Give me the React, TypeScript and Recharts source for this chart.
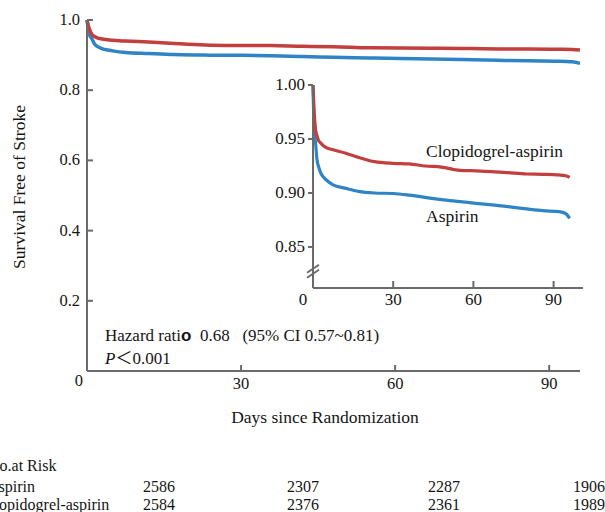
import React from "react";
import { LineChart, Line, XAxis, YAxis } from "recharts";

// Kaplan-Meier estimates (day, survival free of stroke)
const days = [0, 0.4, 1, 1.5, 2, 3, 4, 5, 7.5, 12, 17, 23, 30, 36, 42, 48, 55, 61, 67, 73, 80, 86, 92, 94.5, 96];
const clopidogrelAspirin = [
  1.0, 0.977, 0.958, 0.953, 0.949, 0.946, 0.9435, 0.942, 0.94, 0.937, 0.933, 0.929, 0.9275, 0.927,
  0.925, 0.924, 0.921, 0.9205, 0.9198, 0.9188, 0.9176, 0.9173, 0.9167, 0.916, 0.9145,
];
const aspirin = [
  1.0, 0.962, 0.945, 0.931, 0.925, 0.918, 0.9145, 0.912, 0.9075, 0.9045, 0.9015, 0.9, 0.8995, 0.898,
  0.896, 0.8938, 0.892, 0.8904, 0.8889, 0.8873, 0.8852, 0.8836, 0.8827, 0.881, 0.8765,
];

const mainXTicks = [30, 60, 90];
const mainYTicks = [0, 0.2, 0.4, 0.6, 0.8, 1.0];
const insetXTicks = [0, 30, 60, 90];
const insetYTicks = [0.85, 0.9, 0.95, 1.0];
const BREAK_AT = 0.828;

const riskHeader = "No.at Risk";
const riskGroups = ["Aspirin", "Clopidogrel-aspirin"];
const riskAspirin = [2586, 2307, 2287, 1906];
const riskClopidogrel = [2584, 2376, 2361, 1989];

const data = days.map((d, i) => ({
  day: d,
  aspirin: aspirin[i],
  clopidogrel: clopidogrelAspirin[i],
}));

const RED = "#c23f3e";
const BLUE = "#2f84c5";
const AXIS = "#6a6a6a";
const INK = "#151515";
const FONT = '"Liberation Serif", "Times New Roman", serif';

function MainXTick({ x, y, payload }: any) {
  return (
    <g>
      <line x1={x} x2={x} y1={y} y2={y - 6} stroke={AXIS} strokeWidth={2} />
      <text x={x} y={y + 18} textAnchor="middle" fontFamily={FONT} fontSize={16.5} fill={INK}>
        {payload.value}
      </text>
    </g>
  );
}

function MainYTick({ x, y, payload }: any) {
  if (payload.value === 0) {
    return (
      <text x={x - 4} y={y + 15} textAnchor="end" fontFamily={FONT} fontSize={16.5} fill={INK}>
        0
      </text>
    );
  }
  return (
    <g>
      <line x1={x} x2={x + 6} y1={y} y2={y} stroke={AXIS} strokeWidth={2} />
      <text x={x - 7} y={y + 5} textAnchor="end" fontFamily={FONT} fontSize={16.5} fill={INK}>
        {payload.value.toFixed(1)}
      </text>
    </g>
  );
}

function InsetXTick({ x, y, payload }: any) {
  if (payload.value === 0) {
    return (
      <text x={x - 10} y={y + 17} textAnchor="middle" fontFamily={FONT} fontSize={17} fill={INK}>
        0
      </text>
    );
  }
  return (
    <g>
      <line x1={x} x2={x} y1={y} y2={y - 7} stroke={AXIS} strokeWidth={2} />
      <text x={x} y={y + 17} textAnchor="middle" fontFamily={FONT} fontSize={17} fill={INK}>
        {payload.value}
      </text>
    </g>
  );
}

function InsetYTick({ x, y, payload }: any) {
  if (payload.value === BREAK_AT) {
    // axis break mark
    return (
      <g stroke={AXIS} strokeWidth={2}>
        <line x1={x - 6} y1={y + 2} x2={x + 6} y2={y - 6} />
        <line x1={x - 6} y1={y + 7} x2={x + 6} y2={y - 1} />
      </g>
    );
  }
  return (
    <g>
      <line x1={x - 5} x2={x} y1={y} y2={y} stroke={AXIS} strokeWidth={2} />
      <text x={x - 8} y={y + 5} textAnchor="end" fontFamily={FONT} fontSize={17} fill={INK}>
        {payload.value.toFixed(2)}
      </text>
    </g>
  );
}

export default function App() {
  const riskCols = [143, 287, 428, 573];
  return (
    <div
      style={{
        position: "absolute",
        left: 0,
        top: 0,
        width: 605,
        height: 512,
        overflow: "hidden",
        background: "#fff",
      }}
    >
      <div style={{ position: "absolute", left: 0, top: 0 }}>
        <LineChart width={605} height={400} data={data} margin={{ top: 20, right: 25, left: 0, bottom: 0 }}>
          <XAxis
            dataKey="day"
            type="number"
            domain={[0, 96]}
            ticks={mainXTicks}
            height={29}
            tickSize={0}
            tickMargin={0}
            tickLine={false}
            axisLine={{ stroke: AXIS, strokeWidth: 2 }}
            tick={(p: any) => <MainXTick {...p} />}
          />
          <YAxis
            type="number"
            domain={[0, 1]}
            ticks={mainYTicks}
            width={87}
            tickSize={0}
            tickMargin={0}
            tickLine={false}
            axisLine={{ stroke: AXIS, strokeWidth: 2 }}
            tick={(p: any) => <MainYTick {...p} />}
          />
          <Line dataKey="aspirin" type="monotone" stroke={BLUE} strokeWidth={3.5} dot={false} isAnimationActive={false} />
          <Line dataKey="clopidogrel" type="monotone" stroke={RED} strokeWidth={3.5} dot={false} isAnimationActive={false} />
        </LineChart>
      </div>

      <div style={{ position: "absolute", left: 230, top: 70 }}>
        <LineChart width={370} height={240} data={data} margin={{ top: 15, right: 17, left: 0, bottom: 0 }}>
          <XAxis
            dataKey="day"
            type="number"
            domain={[0, 101]}
            ticks={insetXTicks}
            height={22}
            tickSize={0}
            tickMargin={0}
            tickLine={false}
            axisLine={{ stroke: AXIS, strokeWidth: 2 }}
            tick={(p: any) => <InsetXTick {...p} />}
          />
          <YAxis
            type="number"
            domain={[0.812, 1]}
            ticks={[BREAK_AT, ...insetYTicks]}
            width={83}
            tickSize={0}
            tickMargin={0}
            tickLine={false}
            axisLine={{ stroke: AXIS, strokeWidth: 2 }}
            tick={(p: any) => <InsetYTick {...p} />}
          />
          <Line dataKey="aspirin" type="monotone" stroke={BLUE} strokeWidth={3.2} dot={false} isAnimationActive={false} />
          <Line dataKey="clopidogrel" type="monotone" stroke={RED} strokeWidth={3.2} dot={false} isAnimationActive={false} />
        </LineChart>
      </div>

      <svg
        width={605}
        height={512}
        style={{ position: "absolute", left: 0, top: 0, pointerEvents: "none" }}
        fontFamily={FONT}
        fill={INK}
      >
        <text transform="translate(19,187) rotate(-90)" textAnchor="middle" dominantBaseline="central" fontSize={17.5}>
          Survival Free of Stroke
        </text>
        <text x={325} y={423} textAnchor="middle" fontSize={17.5}>
          Days since Randomization
        </text>

        <text x={426} y={157} fontSize={17.5}>
          Clopidogrel-aspirin
        </text>
        <text x={426} y={222} fontSize={17.5}>
          Aspirin
        </text>

        <text x={105} y={341} fontSize={17} style={{ whiteSpace: "pre" }}>
          Hazard rati
          <tspan fontFamily='"Liberation Sans", Arial, sans-serif' fontWeight="bold">o</tspan>
          {"  0.68   (95% CI 0.57~0.81)"}
        </text>
        <text x={105} y={364} fontSize={17}>
          <tspan fontStyle="italic">P</tspan>
          <tspan fontFamily='"Noto Sans CJK SC", sans-serif'>＜</tspan>
          0.001
        </text>

        <text x={-12} y={471} fontSize={16}>
          {riskHeader}
        </text>
        {[riskAspirin, riskClopidogrel].map((row, r) => (
          <g key={r}>
            <text x={r === 0 ? -13 : -16} y={r === 0 ? 492 : 510} fontSize={16}>
              {riskGroups[r]}
            </text>
            {row.map((v, i) => (
              <text key={i} x={riskCols[i]} y={r === 0 ? 492 : 510} fontSize={16}>
                {v}
              </text>
            ))}
          </g>
        ))}
      </svg>
    </div>
  );
}
